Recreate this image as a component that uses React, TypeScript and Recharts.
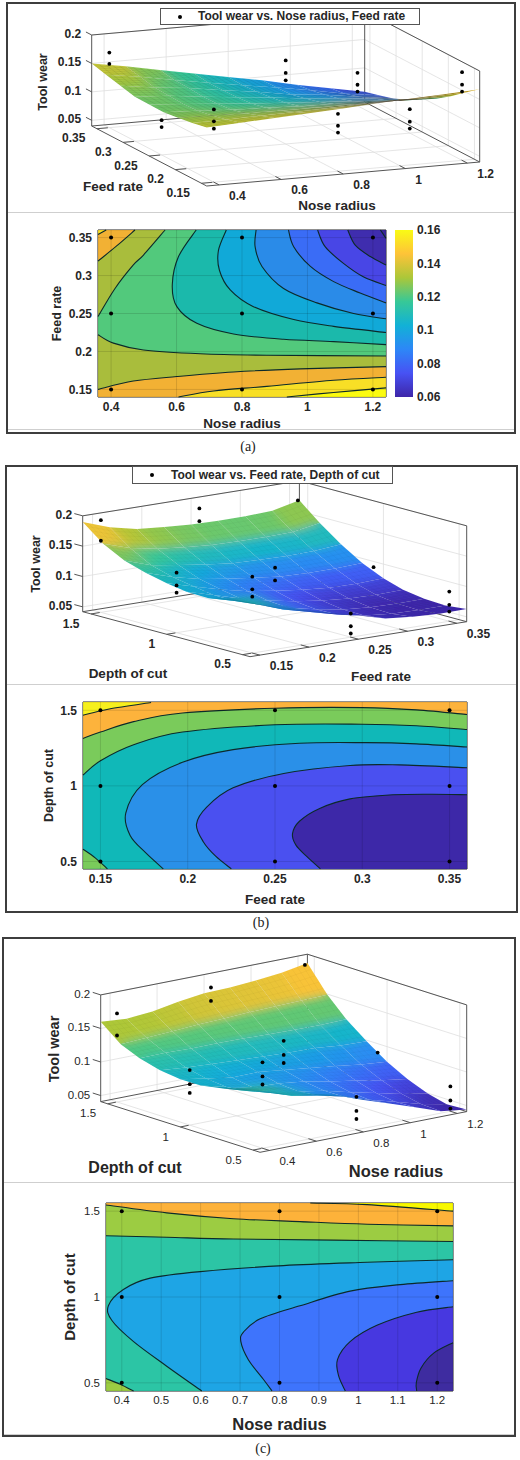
import { Bar, BarChart, CartesianGrid, ReferenceLine, Scatter, ScatterChart, XAxis, YAxis } from 'recharts';

type Pt = [number, number];
type Dot3 = [number, number, number];

const FONT = '"Liberation Sans", Arial, sans-serif';
const INK = '#262626';

// ---- panel (a): tool wear vs nose radius, feed rate ----
const noseTicks = [0.4, 0.6, 0.8, 1, 1.2];
const feedTicksA = [0.15, 0.2, 0.25, 0.3, 0.35];
const wearTicks = [0.05, 0.1, 0.15, 0.2];
const measuredXA = [0.4, 0.8, 1.2];
const measuredYA = [0.15, 0.25, 0.35];
const gridXA = [0.36, 0.47, 0.58, 0.69, 0.8, 0.91, 1.02, 1.13, 1.24];
const gridYA = [0.14, 0.1675, 0.195, 0.2225, 0.25, 0.2775, 0.305, 0.3325, 0.36];
const surfaceA = [
  [0.143, 0.146, 0.149, 0.152, 0.155, 0.159, 0.162, 0.165, 0.168],
  [0.1376, 0.1385, 0.1398, 0.141, 0.143, 0.1445, 0.1455, 0.147, 0.149],
  [0.1338, 0.1324, 0.1312, 0.1303, 0.13, 0.13, 0.1298, 0.1297, 0.1292],
  [0.13, 0.1275, 0.124, 0.122, 0.1197, 0.1184, 0.1165, 0.114, 0.1117],
  [0.1305, 0.126, 0.1215, 0.1165, 0.1125, 0.1085, 0.1046, 0.1005, 0.097],
  [0.131, 0.1275, 0.1203, 0.1145, 0.1085, 0.1015, 0.096, 0.0908, 0.0837],
  [0.137, 0.129, 0.1225, 0.1135, 0.1055, 0.0955, 0.0895, 0.081, 0.0725],
  [0.1435, 0.1346, 0.1235, 0.1134, 0.1037, 0.0945, 0.0844, 0.0729, 0.065],
  [0.15, 0.14, 0.128, 0.1165, 0.105, 0.094, 0.081, 0.0695, 0.058],
];
const dotsA: Dot3[] = [
  [0.4, 0.35, 0.172], [0.4, 0.35, 0.152],
  [0.4, 0.25, 0.101], [0.4, 0.25, 0.089],
  [0.4, 0.15, 0.168], [0.4, 0.15, 0.147], [0.4, 0.15, 0.134],
  [0.8, 0.25, 0.187], [0.8, 0.25, 0.165], [0.8, 0.25, 0.152],
  [0.8, 0.15, 0.141], [0.8, 0.15, 0.12], [0.8, 0.15, 0.108],
  [1.2, 0.35, 0.098], [1.2, 0.35, 0.077], [1.2, 0.35, 0.065],
  [1.2, 0.25, 0.082], [1.2, 0.25, 0.06], [1.2, 0.25, 0.048],
  [1.2, 0.15, 0.195], [1.2, 0.15, 0.173], [1.2, 0.15, 0.161],
];
const lineA13Top: Pt[] = [[0.36, 0.246], [0.412, 0.283], [0.468, 0.314], [0.499, 0.327], [0.565, 0.36]];
const lineA14Top: Pt[] = [[0.36, 0.319], [0.417, 0.339], [0.473, 0.36]];
const lineA15Top: Pt[] = [[0.36, 0.354], [0.385, 0.36]];
const lineA13Low: Pt[] = [[0.36, 0.222], [0.407, 0.211], [0.499, 0.202], [0.672, 0.197], [0.876, 0.195], [1.24, 0.194]];
const lineA14Low: Pt[] = [[0.36, 0.15], [0.468, 0.161], [0.601, 0.167], [0.774, 0.173], [0.978, 0.177], [1.24, 0.18]];
const lineA15Low: Pt[] = [[0.606, 0.14], [0.713, 0.148], [0.876, 0.154], [1.08, 0.162], [1.24, 0.166]];
const lineA16Low: Pt[] = [[0.937, 0.14], [1.08, 0.146], [1.24, 0.152]];
const lineA12: Pt[] = [[0.66, 0.36], [0.606, 0.325], [0.587, 0.288], [0.601, 0.259], [0.662, 0.237], [0.774, 0.223], [0.927, 0.216], [1.08, 0.213], [1.24, 0.209]];
const lineA11: Pt[] = [[0.752, 0.36], [0.728, 0.333], [0.731, 0.307], [0.764, 0.281], [0.835, 0.259], [0.958, 0.242], [1.08, 0.233], [1.24, 0.225]];
const lineA10: Pt[] = [[0.843, 0.36], [0.84, 0.338], [0.861, 0.312], [0.927, 0.283], [1.029, 0.264], [1.141, 0.25], [1.24, 0.243]];
const lineA09: Pt[] = [[0.942, 0.36], [0.958, 0.338], [1.009, 0.312], [1.08, 0.292], [1.161, 0.277], [1.24, 0.264]];
const lineA08: Pt[] = [[1.031, 0.36], [1.054, 0.338], [1.11, 0.316], [1.172, 0.298], [1.24, 0.287]];
const lineA07: Pt[] = [[1.123, 0.36], [1.146, 0.34], [1.192, 0.325], [1.24, 0.314]];
const lineA06: Pt[] = [[1.223, 0.36], [1.24, 0.349]];

const bandsA = [
  { line: lineA13Top, close: [[0.36, 0.36]] as Pt[], fill: '#a9bd3c' },
  { line: lineA14Top, close: [[0.36, 0.36]] as Pt[], fill: '#f2b134' },
  { line: lineA15Top, close: [[0.36, 0.36]] as Pt[], fill: '#f8df26' },
  { line: lineA13Low, close: [[1.24, 0.14], [0.36, 0.14]] as Pt[], fill: '#a9bd3c' },
  { line: lineA14Low, close: [[1.24, 0.14], [0.36, 0.14]] as Pt[], fill: '#f2b134' },
  { line: lineA15Low, close: [[1.24, 0.14]] as Pt[], fill: '#f8df26' },
  { line: lineA16Low, close: [[1.24, 0.14]] as Pt[], fill: '#fbfb10' },
  { line: lineA12, close: [[1.24, 0.36]] as Pt[], fill: '#1bb9ab' },
  { line: lineA11, close: [[1.24, 0.36]] as Pt[], fill: '#11a9d8' },
  { line: lineA10, close: [[1.24, 0.36]] as Pt[], fill: '#2a8be8' },
  { line: lineA09, close: [[1.24, 0.36]] as Pt[], fill: '#3a6cf6' },
  { line: lineA08, close: [[1.24, 0.36]] as Pt[], fill: '#4846e6' },
  { line: lineA07, close: [[1.24, 0.36]] as Pt[], fill: '#3f2dae' },
  { line: lineA06, close: [[1.24, 0.36]] as Pt[], fill: '#38279a' },
];

// ---- panel (b): tool wear vs feed rate, depth of cut ----
const feedTicksB = [0.15, 0.2, 0.25, 0.3, 0.35];
const depthTicks = [0.5, 1, 1.5];
const measuredXB = [0.15, 0.25, 0.35];
const gridXB = [0.14, 0.1675, 0.195, 0.2225, 0.25, 0.2775, 0.305, 0.3325, 0.36];
const gridYB = [0.45, 0.59, 0.73, 0.87, 1, 1.14, 1.28, 1.42, 1.555];
const surfaceB = [
  [0.141, 0.121, 0.1045, 0.0925, 0.081, 0.069, 0.0645, 0.0625, 0.063],
  [0.129, 0.1125, 0.096, 0.0845, 0.0735, 0.0645, 0.06, 0.059, 0.0595],
  [0.12, 0.108, 0.0935, 0.082, 0.0725, 0.065, 0.0615, 0.0605, 0.061],
  [0.121, 0.1085, 0.0955, 0.085, 0.0765, 0.0705, 0.0665, 0.0655, 0.0665],
  [0.126, 0.1135, 0.1015, 0.0915, 0.085, 0.0795, 0.0755, 0.075, 0.0765],
  [0.134, 0.12, 0.1095, 0.1025, 0.097, 0.092, 0.0905, 0.0905, 0.0925],
  [0.145, 0.13, 0.123, 0.1165, 0.1115, 0.11, 0.109, 0.11, 0.114],
  [0.163, 0.149, 0.1405, 0.1355, 0.132, 0.131, 0.131, 0.132, 0.1395],
  [0.19, 0.174, 0.164, 0.16, 0.157, 0.156, 0.156, 0.158, 0.168],
];
const dotsB: Dot3[] = [
  [0.15, 0.5, 0.168], [0.15, 0.5, 0.147], [0.15, 0.5, 0.135],
  [0.15, 1, 0.141], [0.15, 1, 0.12], [0.15, 1, 0.108],
  [0.15, 1.5, 0.194], [0.15, 1.5, 0.16],
  [0.25, 0.5, 0.081], [0.25, 0.5, 0.06], [0.25, 0.5, 0.048],
  [0.25, 1, 0.123], [0.25, 1, 0.102],
  [0.25, 1.5, 0.187], [0.25, 1.5, 0.166],
  [0.35, 0.5, 0.091], [0.35, 0.5, 0.069], [0.35, 0.5, 0.058],
  [0.35, 1, 0.0975],
  [0.35, 1.5, 0.174],
];
const lineB17: Pt[] = [[0.14, 1.467], [0.155, 1.509], [0.179, 1.552]];
const lineB15: Pt[] = [[0.14, 1.314], [0.15, 1.356], [0.169, 1.425], [0.197, 1.482], [0.25, 1.514], [0.3, 1.518], [0.331, 1.503], [0.36, 1.472]];
const lineB13: Pt[] = [[0.14, 1.072], [0.15, 1.166], [0.169, 1.272], [0.197, 1.356], [0.25, 1.404], [0.3, 1.408], [0.331, 1.398], [0.36, 1.373]];
const lineB13Low: Pt[] = [[0.14, 0.581], [0.147, 0.524], [0.154, 0.451]];
const lineB11: Pt[] = [[0.36, 1.257], [0.331, 1.278], [0.302, 1.286], [0.264, 1.282], [0.226, 1.24], [0.197, 1.156], [0.174, 1.008], [0.1645, 0.819], [0.167, 0.672], [0.176, 0.556], [0.186, 0.451]];
const lineB09: Pt[] = [[0.36, 1.12], [0.321, 1.139], [0.293, 1.135], [0.255, 1.082], [0.226, 0.987], [0.211, 0.861], [0.205, 0.745], [0.209, 0.629], [0.216, 0.535], [0.225, 0.451]];
const lineB07: Pt[] = [[0.36, 0.941], [0.34, 0.945], [0.3176, 0.941], [0.293, 0.914], [0.2756, 0.851], [0.264, 0.766], [0.26, 0.682], [0.262, 0.608], [0.268, 0.535], [0.276, 0.451]];

const bandsB = [
  { line: lineB13, close: [[0.36, 1.555], [0.14, 1.555]] as Pt[], fill: '#7acb5b' },
  { line: lineB15, close: [[0.36, 1.555], [0.14, 1.555]] as Pt[], fill: '#fdb33c' },
  { line: lineB17, close: [[0.14, 1.555]] as Pt[], fill: '#f6f01e' },
  { line: lineB13Low, close: [[0.14, 0.45]] as Pt[], fill: '#7acb5b' },
  { line: lineB11, close: [[0.36, 0.45]] as Pt[], fill: '#2a90e8' },
  { line: lineB09, close: [[0.36, 0.45]] as Pt[], fill: '#4a50f0' },
  { line: lineB07, close: [[0.36, 0.45]] as Pt[], fill: '#3d28a8' },
];

// ---- panel (c): tool wear vs nose radius, depth of cut ----
const noseTicksC = [0.4, 0.5, 0.6, 0.7, 0.8, 0.9, 1, 1.1, 1.2];
const gridXC = [0.36, 0.47, 0.58, 0.69, 0.8, 0.91, 1.02, 1.13, 1.24];
const gridYC = [0.4525, 0.59, 0.72, 0.86, 1, 1.14, 1.28, 1.41, 1.5475];
const surfaceC = [
  [0.14, 0.1285, 0.1125, 0.1035, 0.0885, 0.076, 0.0625, 0.049, 0.044],
  [0.1265, 0.1165, 0.1005, 0.0935, 0.0845, 0.072, 0.0615, 0.0505, 0.0425],
  [0.118, 0.1065, 0.0955, 0.0905, 0.084, 0.074, 0.0655, 0.0565, 0.0495],
  [0.1125, 0.1025, 0.0945, 0.0925, 0.088, 0.0805, 0.0745, 0.067, 0.0615],
  [0.112, 0.1055, 0.0995, 0.1, 0.0955, 0.091, 0.0865, 0.081, 0.0775],
  [0.116, 0.1125, 0.11, 0.108, 0.106, 0.1045, 0.1035, 0.0995, 0.0985],
  [0.124, 0.1245, 0.1235, 0.1235, 0.123, 0.122, 0.121, 0.1205, 0.1215],
  [0.136, 0.138, 0.14, 0.1425, 0.144, 0.146, 0.147, 0.148, 0.149],
  [0.16, 0.157, 0.16, 0.167, 0.172, 0.173, 0.176, 0.18, 0.187],
];
const dotsC: Dot3[] = [
  [0.4, 0.5, 0.169], [0.4, 0.5, 0.148], [0.4, 0.5, 0.136],
  [0.4, 1, 0.123], [0.4, 1, 0.102], [0.4, 1, 0.089],
  [0.4, 1.5, 0.173], [0.4, 1.5, 0.14],
  [0.8, 0.5, 0.09], [0.8, 0.5, 0.069], [0.8, 0.5, 0.057],
  [0.8, 1, 0.139], [0.8, 1, 0.118], [0.8, 1, 0.106],
  [0.8, 1.5, 0.184], [0.8, 1.5, 0.164],
  [1.2, 0.5, 0.078], [1.2, 0.5, 0.057], [1.2, 0.5, 0.045],
  [1.2, 1, 0.094],
  [1.2, 1.5, 0.19],
];
const lineC17: Pt[] = [[0.878, 1.5475], [1.022, 1.538], [1.24, 1.5]];
const lineC15: Pt[] = [[0.36, 1.536], [0.514, 1.49], [0.683, 1.456], [0.852, 1.439], [1.022, 1.424], [1.24, 1.414]];
const lineC13: Pt[] = [[0.36, 1.357], [0.514, 1.348], [0.683, 1.338], [0.937, 1.331], [1.24, 1.323]];
const lineC13Low: Pt[] = [[0.36, 0.525], [0.396, 0.492], [0.43, 0.4525]];
const lineC11: Pt[] = [[1.24, 1.217], [1.022, 1.202], [0.81, 1.183], [0.599, 1.148], [0.472, 1.11], [0.404, 1.044], [0.366, 0.949], [0.375, 0.863], [0.43, 0.74], [0.514, 0.597], [0.603, 0.4525]];
const lineC09: Pt[] = [[1.24, 1.095], [1.106, 1.072], [0.979, 1.034], [0.852, 0.949], [0.751, 0.873], [0.709, 0.797], [0.702, 0.74], [0.721, 0.635], [0.759, 0.521], [0.781, 0.4525]];
const lineC07: Pt[] = [[1.24, 0.943], [1.148, 0.911], [1.047, 0.835], [0.979, 0.74], [0.947, 0.635], [0.95, 0.54], [0.967, 0.4525]];
const lineC05: Pt[] = [[1.24, 0.734], [1.191, 0.673], [1.159, 0.587], [1.147, 0.502], [1.148, 0.4525]];

const bandsC = [
  { line: lineC13, close: [[1.24, 1.5475], [0.36, 1.5475]] as Pt[], fill: '#9ccc42' },
  { line: lineC15, close: [[1.24, 1.5475], [0.36, 1.5475]] as Pt[], fill: '#fdb23a' },
  { line: lineC17, close: [[1.24, 1.5475]] as Pt[], fill: '#f8f800' },
  { line: lineC13Low, close: [[0.36, 0.4525]] as Pt[], fill: '#9ccc42' },
  { line: lineC11, close: [[1.24, 0.4525]] as Pt[], fill: '#1ea5e5' },
  { line: lineC09, close: [[1.24, 0.4525]] as Pt[], fill: '#3e74fc' },
  { line: lineC07, close: [[1.24, 0.4525]] as Pt[], fill: '#4738e0' },
  { line: lineC05, close: [[1.24, 0.4525]] as Pt[], fill: '#3e2ca0' },
];

const colorbarData = [{ name: 'wear', range: [0.06, 0.16] }];
const colorbarTicks = [0.06, 0.08, 0.1, 0.12, 0.14, 0.16];

const parulaStops = ['#3e26a8', '#4752f4', '#2d87f7', '#12b1d6', '#37c897', '#abc739', '#fec338', '#f9fb15'];

function parula(t: number) {
  const v = Math.min(1, Math.max(0, t)) * (parulaStops.length - 1);
  const i = Math.min(parulaStops.length - 2, Math.floor(v));
  const f = v - i;
  const ch = (hex: string, k: number) => parseInt(hex.slice(1 + k * 2, 3 + k * 2), 16);
  const mix = [0, 1, 2].map((k) => Math.round(ch(parulaStops[i], k) * (1 - f) + ch(parulaStops[i + 1], k) * f));
  return `rgb(${mix.join(',')})`;
}

// ---- 3D box: orthographic projection into the chart's pixel sized hidden axes ----
interface Box {
  id: string;
  height: number;
  origin: Pt;
  xVec: Pt;
  yVec: Pt;
  zScale: number;
  xDomain: Pt;
  yDomain: Pt;
  zMin: number;
  zMax: number;
}

const boxA: Box = { id: 'a', height: 212, origin: [206.7, 186], xVec: [273, -24], yVec: [-115, -60], zScale: 568.75, xDomain: [0.36, 1.24], yDomain: [0.14, 0.36], zMin: 0.04, zMax: 0.2 };
const boxB: Box = { id: 'b', height: 229, origin: [250, 201.7], xVec: [216.7, -35], yVec: [-167.3, -45], zScale: 606.7, xDomain: [0.14, 0.36], yDomain: [0.45, 1.555], zMin: 0.042, zMax: 0.2 };
const boxC: Box = { id: 'c', height: 247, origin: [260, 217.3], xVec: [206.7, -40.7], yVec: [-159.3, -50.7], zScale: 671, xDomain: [0.36, 1.24], yDomain: [0.4525, 1.5475], zMin: 0.041, zMax: 0.2 };

function project(b: Box, x: number, y: number, z: number) {
  const u = (x - b.xDomain[0]) / (b.xDomain[1] - b.xDomain[0]);
  const v = (y - b.yDomain[0]) / (b.yDomain[1] - b.yDomain[0]);
  return {
    x: b.origin[0] + u * b.xVec[0] + v * b.yVec[0],
    y: b.origin[1] + u * b.xVec[1] + v * b.yVec[1] - (z - b.zMin) * b.zScale,
  };
}

const NoDot = () => null;

const segmentsLine = (color: string, width: number) => (p: any) => {
  let d = '';
  for (let i = 0; i + 1 < p.points.length; i += 2) {
    d += `M${p.points[i].x} ${p.points[i].y}L${p.points[i + 1].x} ${p.points[i + 1].y}`;
  }
  return <path d={d} fill="none" stroke={color} strokeWidth={width} />;
};

function gridSegments(b: Box, xt: number[], yt: number[], zt: number[]) {
  const [x0, x1] = b.xDomain;
  const [y0, y1] = b.yDomain;
  const out: { x: number; y: number }[] = [];
  const seg = (a: number[], c: number[]) => out.push(project(b, a[0], a[1], a[2]), project(b, c[0], c[1], c[2]));
  xt.forEach((x) => {
    seg([x, y0, b.zMin], [x, y1, b.zMin]);
    seg([x, y1, b.zMin], [x, y1, b.zMax]);
  });
  yt.forEach((y) => {
    seg([x0, y, b.zMin], [x1, y, b.zMin]);
    seg([x1, y, b.zMin], [x1, y, b.zMax]);
  });
  zt.forEach((z) => {
    seg([x0, y1, z], [x1, y1, z]);
    seg([x1, y1, z], [x1, y0, z]);
  });
  return out;
}

function boxSegments(b: Box, xt: number[], yt: number[], zt: number[]) {
  const [x0, x1] = b.xDomain;
  const [y0, y1] = b.yDomain;
  const { zMin: z0, zMax: z1 } = b;
  const out: { x: number; y: number }[] = [];
  const seg = (a: number[], c: number[]) => out.push(project(b, a[0], a[1], a[2]), project(b, c[0], c[1], c[2]));
  seg([x0, y1, z0], [x0, y0, z0]);
  seg([x0, y0, z0], [x1, y0, z0]);
  seg([x0, y1, z0], [x1, y1, z0]);
  seg([x1, y1, z0], [x1, y0, z0]);
  seg([x0, y1, z1], [x1, y1, z1]);
  seg([x1, y1, z1], [x1, y0, z1]);
  seg([x0, y1, z0], [x0, y1, z1]);
  seg([x1, y1, z0], [x1, y1, z1]);
  seg([x1, y0, z0], [x1, y0, z1]);
  const dy = (y1 - y0) * 0.05;
  const dx = (x1 - x0) * 0.04;
  xt.forEach((x) => seg([x, y0, z0], [x, y0 + dy, z0]));
  yt.forEach((y) => seg([x0, y, z0], [x0 + dx, y, z0]));
  zt.forEach((z) => seg([x0, y1, z], [x0, y1 + dy, z]));
  return out;
}

const surfaceLine = (b: Box, nx: number, zs: number[][], clim: Pt, meshOpacity: number) => (p: any) => {
  const pts = p.points;
  const ny = zs.length;
  const at = (r: number, c: number) => pts[r * nx + c];
  const quads: { d: string; fill: string }[] = [];
  for (let r = ny - 2; r >= 0; r--) {
    for (let c = nx - 2; c >= 0; c--) {
      const corners = [at(r, c), at(r, c + 1), at(r + 1, c + 1), at(r + 1, c)];
      const mean = (zs[r][c] + zs[r][c + 1] + zs[r + 1][c] + zs[r + 1][c + 1]) / 4;
      quads.push({
        d: corners.map((q) => `${q.x},${q.y}`).join(' '),
        fill: parula((mean - clim[0]) / (clim[1] - clim[0])),
      });
    }
  }
  // drawn texture only, the fine MATLAB mesh between the read grid lines
  const sub = 5;
  let mesh = '';
  const mix = (a: any, c: any, t: number) => `${a.x + (c.x - a.x) * t} ${a.y + (c.y - a.y) * t}`;
  for (let r = 0; r < ny - 1; r++) {
    for (let k = 0; k < sub; k++) {
      for (let c = 0; c < nx; c++) mesh += `${c ? 'L' : 'M'}${mix(at(r, c), at(r + 1, c), k / sub)}`;
    }
  }
  for (let c = 0; c < nx - 1; c++) {
    for (let k = 0; k < sub; k++) {
      for (let r = 0; r < ny; r++) mesh += `${r ? 'L' : 'M'}${mix(at(r, c), at(r, c + 1), k / sub)}`;
    }
  }
  return (
    <g clipPath={`url(#clip-${b.id})`}>
      <defs>
        <clipPath id={`clip-${b.id}`}>
          {quads.map((q, i) => <polygon key={i} points={q.d} />)}
        </clipPath>
        <filter id={`soft-${b.id}`} x="-20%" y="-20%" width="140%" height="140%">
          <feGaussianBlur stdDeviation="7 4" />
        </filter>
      </defs>
      {quads.map((q, i) => <polygon key={i} points={q.d} fill={q.fill} stroke={q.fill} strokeWidth={1} />)}
      <g filter={`url(#soft-${b.id})`}>
        {quads.map((q, i) => <polygon key={i} points={q.d} fill={q.fill} stroke={q.fill} strokeWidth={1} />)}
      </g>
      <path d={mesh} fill="none" stroke="#000" strokeOpacity={meshOpacity} strokeWidth={0.6} />
    </g>
  );
};

const labelShape = (dx: number, dy: number, anchor: string, size: number, weight: string) => (p: any) => (
  <text x={p.cx + dx} y={p.cy + dy} textAnchor={anchor} dominantBaseline="central" fontFamily={FONT} fontSize={size} fontWeight={weight} fill={INK}>
    {p.payload.label}
  </text>
);

const dotShape = (r: number) => (p: any) => <circle cx={p.cx} cy={p.cy} r={r} fill="#000" />;

interface Surface3DProps {
  box: Box;
  top: number;
  xs: number[];
  ys: number[];
  zs: number[][];
  dots: Dot3[];
  clim: Pt;
  meshOpacity: number;
  xTicks: number[];
  yTicks: number[];
  size: number;
  weight: string;
}

function Surface3D({ box, top, xs, ys, zs, dots, clim, meshOpacity, xTicks, yTicks, size, weight }: Surface3DProps) {
  const [x0] = box.xDomain;
  const [y0, y1] = box.yDomain;
  const vertices = zs.flatMap((row, r) => row.map((z, c) => project(box, xs[c], ys[r], z)));
  const dotPts = dots.map(([x, y, z]) => project(box, x, y, z));
  const xLabels = xTicks.map((t) => ({ ...project(box, t, y0, box.zMin), label: String(t) }));
  const yLabels = yTicks.map((t) => ({ ...project(box, x0, t, box.zMin), label: String(t) }));
  const zLabels = wearTicks.map((t) => ({ ...project(box, x0, y1, t), label: String(t) }));
  return (
    <div style={{ position: 'absolute', left: 0, top }}>
      <ScatterChart width={520} height={box.height} margin={{ top: 0, right: 0, bottom: 0, left: 0 }}>
        <XAxis type="number" dataKey="x" domain={[0, 520]} hide />
        <YAxis type="number" dataKey="y" domain={[0, box.height]} reversed hide />
        <Scatter data={gridSegments(box, xTicks, yTicks, wearTicks)} shape={NoDot} line={segmentsLine('#dedede', 0.8)} isAnimationActive={false} />
        <Scatter data={boxSegments(box, xTicks, yTicks, wearTicks)} shape={NoDot} line={segmentsLine('#555555', 1)} isAnimationActive={false} />
        <Scatter data={vertices} shape={NoDot} line={surfaceLine(box, xs.length, zs, clim, meshOpacity)} isAnimationActive={false} />
        <Scatter data={dotPts} shape={dotShape(1.9)} isAnimationActive={false} />
        <Scatter data={xLabels} shape={labelShape(10, 11, 'start', size, weight)} isAnimationActive={false} />
        <Scatter data={yLabels} shape={labelShape(-11.5, 9.7, 'end', size, weight)} isAnimationActive={false} />
        <Scatter data={zLabels} shape={labelShape(-10.5, -1, 'end', size, weight)} isAnimationActive={false} />
      </ScatterChart>
    </div>
  );
}

function smoothPath(pts: { x: number; y: number }[]) {
  let d = `M${pts[0].x} ${pts[0].y}`;
  for (let i = 0; i + 1 < pts.length; i++) {
    const a = pts[Math.max(0, i - 1)];
    const b = pts[i];
    const c = pts[i + 1];
    const e = pts[Math.min(pts.length - 1, i + 2)];
    d += `C${b.x + (c.x - a.x) / 6} ${b.y + (c.y - a.y) / 6} ${c.x - (e.x - b.x) / 6} ${c.y - (e.y - b.y) / 6} ${c.x} ${c.y}`;
  }
  return d;
}

const bandLine = (n: number, fill: string) => (p: any) => {
  const open = smoothPath(p.points.slice(0, n));
  const rest = p.points.slice(n).map((q: any) => `L${q.x} ${q.y}`).join('');
  return (
    <g>
      <path d={`${open}${rest}Z`} fill={fill} stroke="none" />
      <path d={open} fill="none" stroke="#0c2a2a" strokeWidth={1.1} />
    </g>
  );
};

interface ContourProps {
  top: number;
  height: number;
  plotLeft: number;
  plotRight: number;
  plotTop: number;
  axisHeight: number;
  xDomain: Pt;
  yDomain: Pt;
  xTicks: number[];
  yTicks: number[];
  dotX: number[];
  dotY: number[];
  base: string;
  bands: { line: Pt[]; close: Pt[]; fill: string }[];
  xTitle: string;
  yTitle: string;
  yTitleX: number;
  titleSize: number;
  yTitleSize: number;
  tickSize: number;
  tickWeight: string;
  titleOffset: number;
}

function Contour(props: ContourProps) {
  const { top, height, plotLeft, plotRight, plotTop, axisHeight, xDomain, yDomain, xTicks, yTicks, dotX, dotY, base, bands } = props;
  const tick = { fontSize: props.tickSize, fontWeight: props.tickWeight, fill: INK, fontFamily: FONT };
  const toXY = (q: Pt) => ({ x: q[0], y: q[1] });
  const backdrop: Pt[] = [[xDomain[0], yDomain[0]], [xDomain[1], yDomain[0]], [xDomain[1], yDomain[1]], [xDomain[0], yDomain[1]]];
  const measured = dotX.flatMap((x) => dotY.map((y) => ({ x, y })));
  return (
    <div style={{ position: 'absolute', left: 0, top }}>
      <ScatterChart width={520} height={height} margin={{ top: plotTop, right: 520 - plotRight, bottom: 0, left: 0 }}>
        <XAxis
          type="number" dataKey="x" domain={xDomain} ticks={xTicks} interval={0} height={axisHeight}
          tickSize={0} tickMargin={5} tickLine={false} axisLine={{ stroke: '#333' }} tick={tick}
          label={{ value: props.xTitle, position: 'insideBottom', offset: props.titleOffset, style: { fontFamily: FONT, fontWeight: 'bold', fontSize: props.titleSize, fill: INK } }}
        />
        <YAxis
          type="number" dataKey="y" domain={yDomain} ticks={yTicks} interval={0} width={plotLeft}
          tickSize={0} tickMargin={6} tickLine={false} axisLine={{ stroke: '#333' }} tick={tick}
          label={{ value: props.yTitle, angle: -90, position: 'insideLeft', offset: props.yTitleX, style: { textAnchor: 'middle', fontFamily: FONT, fontWeight: 'bold', fontSize: props.yTitleSize, fill: INK } }}
        />
        <Scatter data={backdrop.map(toXY)} shape={NoDot} line={{ fill: base, stroke: 'none' }} isAnimationActive={false} />
        {bands.map((b, i) => (
          <Scatter key={i} data={[...b.line, ...b.close].map(toXY)} shape={NoDot} line={bandLine(b.line.length, b.fill)} isAnimationActive={false} />
        ))}
        <CartesianGrid stroke="#000" strokeOpacity={0.12} strokeWidth={1} zIndex={650} />
        <ReferenceLine x={xDomain[1]} stroke="#333" />
        <ReferenceLine y={yDomain[1]} stroke="#333" />
        <Scatter data={measured} shape={dotShape(2)} isAnimationActive={false} zIndex={700} />
      </ScatterChart>
    </div>
  );
}

function Colorbar() {
  return (
    <div style={{ position: 'absolute', left: 395, top: 220 }}>
      <BarChart width={70} height={190} data={colorbarData} barCategoryGap={0} margin={{ top: 10, right: 0, bottom: 13, left: 0 }}>
        <defs>
          <linearGradient id="parula" x1="0" y1="1" x2="0" y2="0">
            {parulaStops.map((c, i) => <stop key={c} offset={i / (parulaStops.length - 1)} stopColor={c} />)}
          </linearGradient>
        </defs>
        <XAxis dataKey="name" hide />
        <YAxis
          orientation="right" type="number" domain={[0.06, 0.16]} ticks={colorbarTicks} interval={0} width={52}
          tickSize={0} tickMargin={4} tickLine={false} axisLine={false}
          tick={{ fontSize: 12, fontWeight: 'bold', fill: INK, fontFamily: FONT }}
        />
        <Bar dataKey="range" fill="url(#parula)" isAnimationActive={false} />
      </BarChart>
    </div>
  );
}

function Frame({ left, top, right, bottom, divider, foot }: { left: number; top: number; right: number; bottom: number; divider: number; foot?: number }) {
  return (
    <>
      <div style={{ position: 'absolute', left, top, width: right - left, height: bottom - top, boxSizing: 'border-box', border: '2px solid #3d3d3d' }} />
      <div style={{ position: 'absolute', left: left + 2, top: divider, width: right - left - 4, height: 1, background: '#cfcfcf' }} />
      {foot ? <div style={{ position: 'absolute', left: left + 2, top: foot, width: right - left - 4, height: 1, background: '#cfcfcf' }} /> : null}
    </>
  );
}

function Title({ x, y, text, size, rotate }: { x: number; y: number; text: string; size: number; rotate?: boolean }) {
  return (
    <div style={{ position: 'absolute', left: x, top: y, transform: `translate(-50%,-50%)${rotate ? ' rotate(-90deg)' : ''}`, whiteSpace: 'nowrap', fontFamily: FONT, fontWeight: 'bold', fontSize: size, lineHeight: 1, color: INK }}>
      {text}
    </div>
  );
}

function LegendBox({ left, top, width, height, dotX, textX, text }: { left: number; top: number; width: number; height: number; dotX: number; textX: number; text: string }) {
  return (
    <div style={{ position: 'absolute', left, top, width, height, boxSizing: 'border-box', background: '#fff', border: '1px solid #555' }}>
      <div style={{ position: 'absolute', left: dotX - left - 2, top: height / 2 - 3, width: 4, height: 4, borderRadius: 2, background: '#000' }} />
      <div style={{ position: 'absolute', left: textX - left, top: 0, lineHeight: `${height - 2}px`, fontFamily: FONT, fontWeight: 'bold', fontSize: 12, color: INK, whiteSpace: 'nowrap' }}>{text}</div>
    </div>
  );
}

function Caption({ x, y, text }: { x: number; y: number; text: string }) {
  return (
    <div style={{ position: 'absolute', left: x, top: y, transform: 'translate(-50%,-50%)', fontFamily: '"Liberation Serif", serif', fontSize: 14, color: '#222' }}>{text}</div>
  );
}

export default function App() {
  return (
    <div style={{ position: 'absolute', left: 0, top: 0, width: 520, height: 1460, background: '#fff', overflow: 'hidden' }}>
      <Frame left={6} top={2} right={516} bottom={434} divider={212} foot={429} />
      <Surface3D box={boxA} top={0} xs={gridXA} ys={gridYA} zs={surfaceA} dots={dotsA} clim={[0.055, 0.17]} meshOpacity={0.12} xTicks={noseTicks} yTicks={feedTicksA} size={12} weight="bold" />
      <LegendBox left={160} top={8} width={260} height={17} dotX={179} textX={197} text="Tool wear vs. Nose radius, Feed rate" />
      <Title x={337} y={206} text="Nose radius" size={13.5} />
      <Title x={113} y={187} text="Feed rate" size={13.5} />
      <Title x={43} y={82} text="Tool wear" size={12.5} rotate />
      <Contour
        top={220} height={220} plotLeft={98} plotRight={386} plotTop={10} axisHeight={43}
        xDomain={[0.36, 1.24]} yDomain={[0.14, 0.36]} xTicks={noseTicks} yTicks={feedTicksA}
        dotX={measuredXA} dotY={measuredYA} base="#52c97c" bands={bandsA}
        xTitle="Nose radius" yTitle="Feed rate" yTitleX={57} titleSize={13.5} yTitleSize={12.5} tickSize={12} tickWeight="bold" titleOffset={12}
      />
      <Colorbar />
      <Caption x={248} y={447} text="(a)" />

      <Frame left={5} top={465} right={518} bottom={913} divider={684} />
      <Surface3D box={boxB} top={455} xs={gridXB} ys={gridYB} zs={surfaceB} dots={dotsB} clim={[0.06, 0.192]} meshOpacity={0.05} xTicks={feedTicksB} yTicks={depthTicks} size={12} weight="bold" />
      <LegendBox left={132} top={466} width={261} height={18} dotX={151} textX={170} text="Tool wear vs. Feed rate, Depth of cut" />
      <Title x={381} y={677} text="Feed rate" size={13.5} />
      <Title x={128} y={674} text="Depth of cut" size={13.5} />
      <Title x={36} y={564} text="Tool wear" size={12.5} rotate />
      <Contour
        top={692} height={222} plotLeft={83} plotRight={467} plotTop={10} axisHeight={45}
        xDomain={[0.14, 0.36]} yDomain={[0.45, 1.555]} xTicks={feedTicksB} yTicks={depthTicks}
        dotX={measuredXB} dotY={depthTicks} base="#10b8b8" bands={bandsB}
        xTitle="Feed rate" yTitle="Depth of cut" yTitleX={49} titleSize={13.5} yTitleSize={12.5} tickSize={12} tickWeight="bold" titleOffset={10}
      />
      <Caption x={261} y={923} text="(b)" />

      <Frame left={2} top={937} right={516} bottom={1437} divider={1182} foot={1434} />
      <Surface3D box={boxC} top={935} xs={gridXC} ys={gridYC} zs={surfaceC} dots={dotsC} clim={[0.045, 0.188]} meshOpacity={0.05} xTicks={noseTicks} yTicks={depthTicks} size={11.5} weight="normal" />
      <Title x={396} y={1171} text="Nose radius" size={16.5} />
      <Title x={135} y={1168} text="Depth of cut" size={16} />
      <Title x={54} y={1049} text="Tool wear" size={14.5} rotate />
      <Contour
        top={1193} height={248} plotLeft={106} plotRight={453} plotTop={10} axisHeight={50}
        xDomain={[0.36, 1.24]} yDomain={[0.4525, 1.5475]} xTicks={noseTicksC} yTicks={depthTicks}
        dotX={measuredXA} dotY={depthTicks} base="#2cc5a5" bands={bandsC}
        xTitle="Nose radius" yTitle="Depth of cut" yTitleX={70} titleSize={16.5} yTitleSize={15} tickSize={11.5} tickWeight="normal" titleOffset={11}
      />
      <Caption x={263} y={1449} text="(c)" />
    </div>
  );
}
